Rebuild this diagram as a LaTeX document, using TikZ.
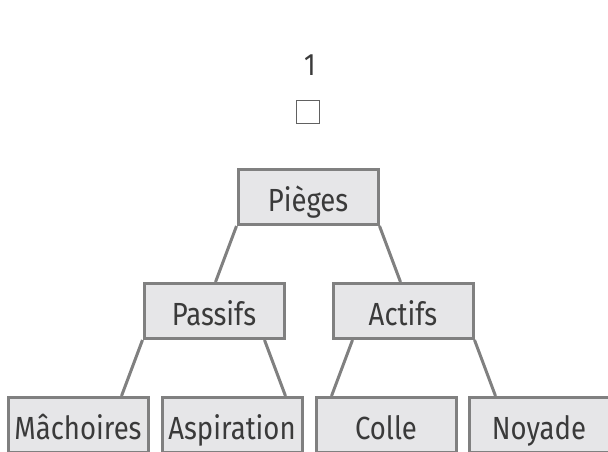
\documentclass[tikz,border=0pt]{standalone}
\usepackage{fontspec}
\setmainfont{Fira Sans}[FakeStretch=0.86]
\usepackage{tikz}
\usetikzlibrary{positioning}

\definecolor{boxfill}{HTML}{E6E6E8}
\definecolor{boxline}{HTML}{808080}
\definecolor{ink}{HTML}{3A3A3A}

\begin{document}
\begin{tikzpicture}[x=0.5pt,y=0.5pt,
    box/.style={draw=boxline, fill=boxfill, line width=1.5pt, text=ink,
      minimum width=70pt, minimum height=27.5pt, inner sep=0pt,
      text height=14pt, text depth=0pt,
      font=\fontsize{16}{18}\selectfont},
    edge/.style={draw=boxline, line width=1.5pt}]
        \clip (0,0) rectangle (608,451);
        \node[text=ink, font=\fontsize{15.5}{17}\selectfont] (num) at (310,386) {1};
        \node[draw=ink!80, line width=0.8pt, minimum size=11.5pt, inner sep=0pt] (tick) at (308,339) {};

        \node[box] (pieges) at (308,254) {Pièges};
        \node[box] (passifs) [below=28pt of pieges.south, xshift=-47pt] {Passifs};
        \node[box] (actifs) [below=28pt of pieges.south, xshift=47.5pt] {Actifs};
        \node[box] (machoires) [below=28pt of passifs.south, xshift=-68pt] {Mâchoires};
        \node[box] (aspiration) [below=28pt of passifs.south, xshift=9pt] {Aspiration};
        \node[box] (colle) [below=28pt of actifs.south, xshift=-8.5pt] {Colle};
        \node[box] (noyade) [below=28pt of actifs.south, xshift=68pt] {Noyade};

        % liens
        \draw[edge] (pieges.south west) -- ([xshift=-10.5pt]pieges.south west |- passifs.north);
        \draw[edge] (pieges.south east) -- ([xshift=10.5pt]pieges.south east |- actifs.north);
        \draw[edge] (passifs.south west) -- ([xshift=-10.5pt]passifs.south west |- machoires.north);
        \draw[edge] ([xshift=-10.5pt]passifs.south east) -- (passifs.south east |- aspiration.north);
        \draw[edge] ([xshift=10.5pt]actifs.south west) -- (actifs.south west |- colle.north);
        \draw[edge] (actifs.south east) -- ([xshift=10.5pt]actifs.south east |- noyade.north);
      \end{tikzpicture}
\end{document}
